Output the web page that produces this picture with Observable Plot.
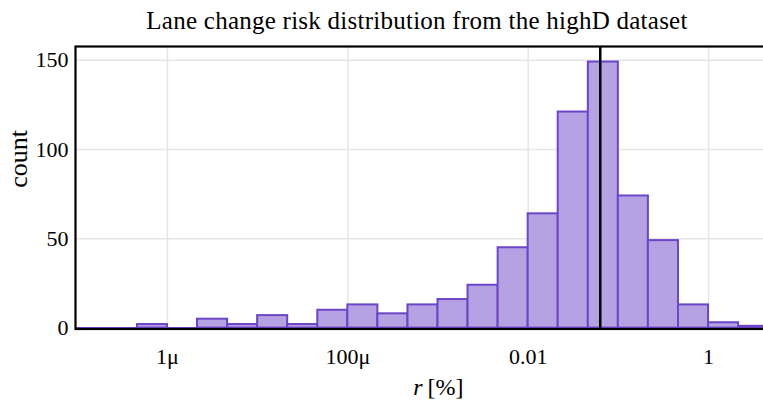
<!DOCTYPE html>
<html><head><meta charset="utf-8">
<script src="https://cdn.jsdelivr.net/npm/d3@7"></script>
<script src="https://cdn.jsdelivr.net/npm/@observablehq/plot@0.6"></script>
<style>html,body{margin:0;padding:0;overflow:hidden;background:#fff;width:763px;height:405px}
svg{max-width:none !important;width:800px !important;height:405px !important;display:block}</style>
</head><body><div id="chart"></div>
<script>
// bin edges as log10 of r [%]
const binEdgesLog = [-7, -6.667, -6.333, -6, -5.667, -5.333, -5, -4.667, -4.333, -4, -3.667, -3.333, -3, -2.667, -2.333, -2, -1.667, -1.333, -1, -0.667, -0.333, 0, 0.333, 0.667];
const counts = [0, 0, 2, 0, 5, 2, 7, 2, 10, 13, 8, 13, 16, 24, 45, 64, 121, 149, 74, 49, 13, 3, 1];
const markerValue = 0.063;
const xTicks = [1e-6, 1e-4, 1e-2, 1];
const xTickLabels = ["1μ", "100μ", "0.01", "1"];
const yTicks = [0, 50, 100, 150];
const titleText = "Lane change risk distribution from the highD dataset";

const bins = counts.map((c, i) => ({lo: 10 ** binEdgesLog[i], hi: 10 ** binEdgesLog[i + 1], count: c}));
const font = "Liberation Serif";

const chart = Plot.plot({
  width: 800, height: 405,
  marginLeft: 75, marginRight: 10, marginTop: 46, marginBottom: 76.5,
  x: {type: "log", domain: [10 ** -7.02, 10 ** 0.909]},
  y: {domain: [-0.5, 157.7]},
  style: {fontFamily: font, fontSize: "22px", background: "white", color: "black", maxWidth: "none"},
  marks: [
    Plot.gridX(xTicks, {stroke: "#e6e6e6", strokeOpacity: 1, strokeWidth: 1.5}),
    Plot.gridY(yTicks, {stroke: "#e6e6e6", strokeOpacity: 1, strokeWidth: 1.5}),
    Plot.ruleY([0], {stroke: "#6d45c9", strokeWidth: 2}),
    Plot.rect(bins, {x1: "lo", x2: "hi", y1: () => 0, y2: "count", fill: "#b5a2e2", stroke: "#6d45c9", strokeWidth: 2}),
    Plot.ruleX([markerValue], {stroke: "black", strokeWidth: 2.5}),
    Plot.axisX(xTicks, {tickSize: 0, tickPadding: 19, tickFormat: (d) => xTickLabels[xTicks.indexOf(d)], label: null, fontSize: 22, fontFamily: font}),
    Plot.axisY(yTicks, {tickSize: 0, tickPadding: 7, label: null, fontSize: 22, fontFamily: font}),
    Plot.frame({stroke: "black", strokeWidth: 2.2}),
    Plot.text([titleText], {frameAnchor: "top", lineAnchor: "middle", dy: -26, dx: -16, fontSize: 25, fontFamily: font}),
    Plot.text(["count"], {frameAnchor: "left", rotate: -90, dx: -57, fontSize: 26, fontFamily: font}),
    Plot.text(["r"], {frameAnchor: "bottom", lineAnchor: "middle", dy: 58, dx: -15, fontSize: 24, fontStyle: "italic", fontFamily: font}),
    Plot.text(["[%]"], {frameAnchor: "bottom", lineAnchor: "middle", dy: 58, dx: 12.5, fontSize: 24, fontFamily: font})
  ]
});
chart.querySelectorAll("text").forEach(t => { if (t.textContent === titleText) t.setAttribute("letter-spacing", "0.25"); });
document.getElementById("chart").appendChild(chart);
</script></body></html>
